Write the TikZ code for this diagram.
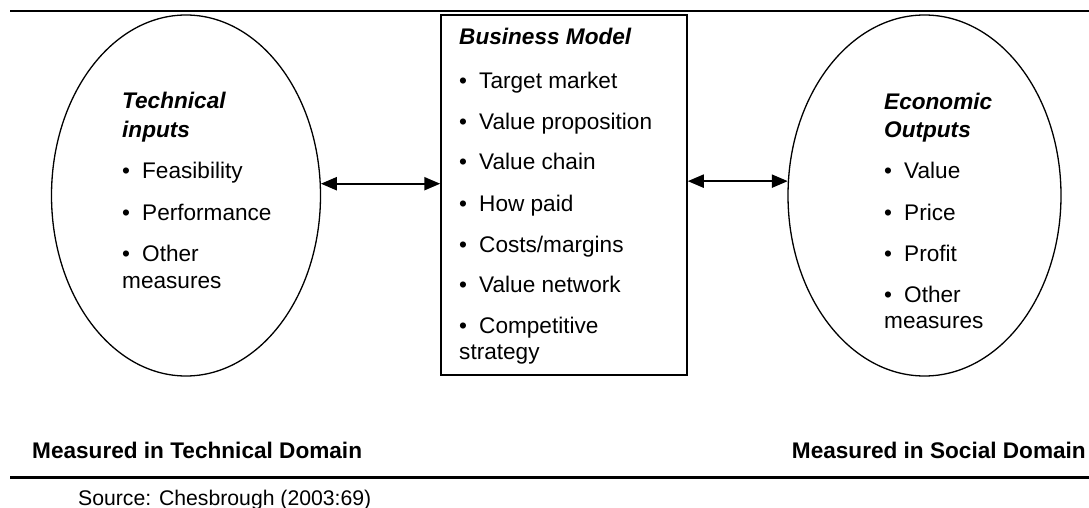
\documentclass[tikz,border=0pt]{standalone}
\usepackage{fontspec}
\setmainfont{Liberation Sans}
\usetikzlibrary{shapes.geometric,arrows.meta}
\begin{document}
\begin{tikzpicture}[x=1pt,y=-1pt,
  txt/.style={inner sep=0pt,anchor=base west,font=\fontsize{22.6}{26}\selectfont},
  head/.style={txt,font=\fontsize{22.6}{26}\selectfont\bfseries\itshape},
  foot/.style={inner sep=0pt,font=\fontsize{22.6}{26}\selectfont\bfseries},
  oval/.style={draw,line width=1.3pt,ellipse,inner sep=0pt},
  dbl/.style={line width=2.2pt,{Triangle[length=16pt,width=13pt]}-{Triangle[length=16pt,width=13pt]}},
  rule/.style={line width=2.5pt}]
\useasboundingbox (0,0) rectangle (1089,508);
\newcommand{\bul}[1]{\makebox[20pt][l]{•}#1}
% rules
\coordinate (t1) at (10,11); \coordinate (t2) at (1089,11);
\coordinate (b1) at (10,477.5); \coordinate (b2) at (1089,477.5);
\draw[rule] (t1) -- (t2);
\draw[rule] (b1) -- (b2);
% shapes
\node[oval,minimum width=269pt,minimum height=361pt] (L) at (186,195.5) {};
\node[oval,minimum width=273pt,minimum height=361pt] (R) at (924.5,195.5) {};
\node[draw,line width=1.5pt,minimum width=246pt,minimum height=360pt,inner sep=0pt] (B) at (564,195) {};
% arrows
\draw[dbl] (L.5.3) -- (L.5.3 -| B.west);
\draw[dbl] (B.east |- R.174.8) -- (R.174.8);
% left text
\node[head] (l1) at (122,109) {Technical};
\node[head] (l2) at (122,137) {inputs};
\node[txt] (l3) at (122,178) {\bul{Feasibility}};
\node[txt] (l4) at (122,220) {\bul{Performance}};
\node[txt] (l5) at (122,261) {\bul{Other}};
\node[txt] (l6) at (122,288) {measures};
% box text
\node[head] (m0) at (459,45) {Business Model};
\node[txt] (m1) at (459,89) {\bul{Target market}};
\node[txt] (m2) at (459,129) {\bul{Value proposition}};
\node[txt] (m3) at (459,169) {\bul{Value chain}};
\node[txt] (m4) at (459,211) {\bul{How paid}};
\node[txt] (m5) at (459,252) {\bul{Costs/margins}};
\node[txt] (m6) at (459,292) {\bul{Value network}};
\node[txt] (m7) at (459,333) {\bul{Competitive}};
\node[txt] (m8) at (459,359) {strategy};
% right text
\node[head] (r1) at (884,110) {Economic};
\node[head] (r2) at (884,137) {Outputs};
\node[txt] (r3) at (884,178) {\bul{Value}};
\node[txt] (r4) at (884,220) {\bul{Price}};
\node[txt] (r5) at (884,261) {\bul{Profit}};
\node[txt] (r6) at (884,302) {\bul{Other}};
\node[txt] (r7) at (884,328) {measures};
% footer
\node[foot,anchor=base west] (f1) at (32,458) {Measured in Technical Domain};
\node[foot,anchor=base east] (f2) at (1086,458) {Measured in Social Domain};
\node[inner sep=0pt,anchor=base west,font=\fontsize{21.2}{26}\selectfont] (src) at (78,505) {Source: Chesbrough (2003:69)};
\end{tikzpicture}
\end{document}
